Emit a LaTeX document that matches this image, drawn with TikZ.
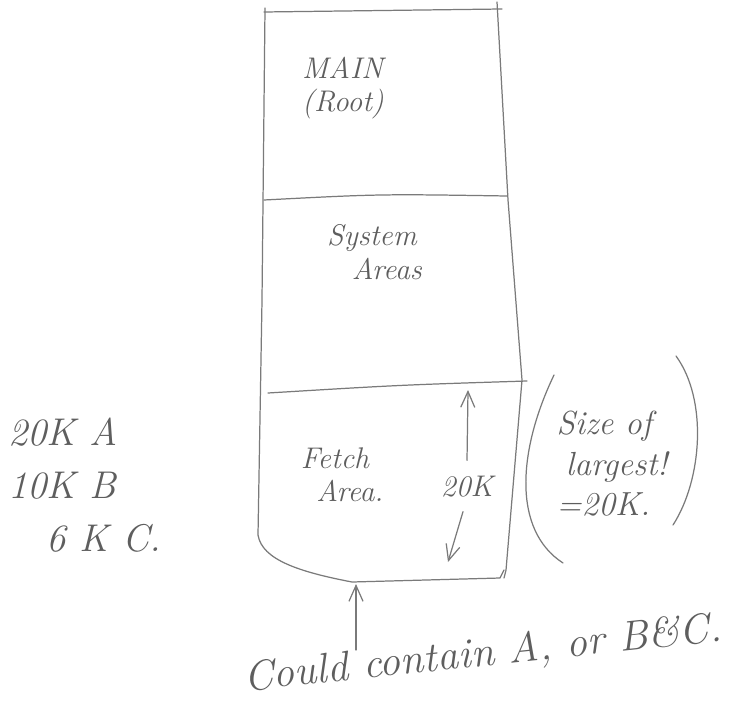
\documentclass[tikz,border=0pt]{standalone}
\usepackage{tikz}
\usetikzlibrary{positioning}
\usepackage{xcolor}
\definecolor{pencil}{HTML}{7A7A7A}
\definecolor{lead}{HTML}{5E5E5E}
\tikzset{
  stroke/.style={draw=pencil, line width=0.7pt, line cap=round, line join=round},
  note/.style={text=lead, font=\itshape\fontsize{17}{19}\selectfont, align=left, inner sep=1pt},
  bignote/.style={text=lead, font=\itshape\fontsize{24}{26}\selectfont, inner sep=1pt},
  ptr/.style={stroke, -{Straight Barb[length=9pt, width=8pt]}}
}
\usetikzlibrary{arrows.meta}
\begin{document}
\begin{tikzpicture}[x=0.02cm, y=-0.02cm]
    \useasboundingbox (0,0) rectangle (742,702);

    % the memory column
    \draw[stroke] (264,12) -- (502,9);
    \draw[stroke] (265,8) -- (262,300) -- (258,535)
        .. controls (262,560) and (300,572) .. (352,582) -- (500,578) -- (504,570);
    \draw[stroke] (497,2) -- (508,200) -- (522,380) -- (506,570) -- (504,578);
    \draw[stroke] (264,200) .. controls (380,194) .. (507,196);
    \draw[stroke] (268,393) .. controls (400,385) .. (527,381);
    \coordinate (fetchtop) at (468,390);
    \coordinate (fetchbot) at (448,562);
    \coordinate (colbase) at (356,584);

    % areas
    \node[note] (main) at (343,88) {MAIN\\(Root)};
    \node[note, align=center] (sysarea) at (372,252) {System\\\quad Areas};
    \node[note, align=center] (fetch) at (335,475) {Fetch\\\quad Area.};
    \node[note] (size) at (467,487) {20K};
    \draw[ptr] (size.north) ++(0,-14) coordinate (uptail) -- (fetchtop);
    \draw[ptr] (size.south) ++(-4,12) coordinate (downtail) -- (fetchbot);

    % largest one
    \draw[stroke] (554,375) .. controls (518,450) and (512,530) .. (563,563);
    \draw[stroke] (676,356) .. controls (708,400) and (702,480) .. (673,525);
    \node[note, font=\itshape\fontsize{19}{23}\selectfont] (largest) at (612,464) {Size of\\\;largest!\\=20K.};

    % what gets loaded
    \node[note, anchor=west, font=\itshape\fontsize{22}{30}\selectfont] (progs) at (6,485) {20K A\\10K B\\\quad 6 K C.};

    \node[bignote, rotate=6] (could) at (483,655) {Could contain A, or B\&C.};
    \coordinate (couldtail) at (356,650);
    \draw[ptr] (couldtail) -- (colbase);
\end{tikzpicture}
\end{document}
